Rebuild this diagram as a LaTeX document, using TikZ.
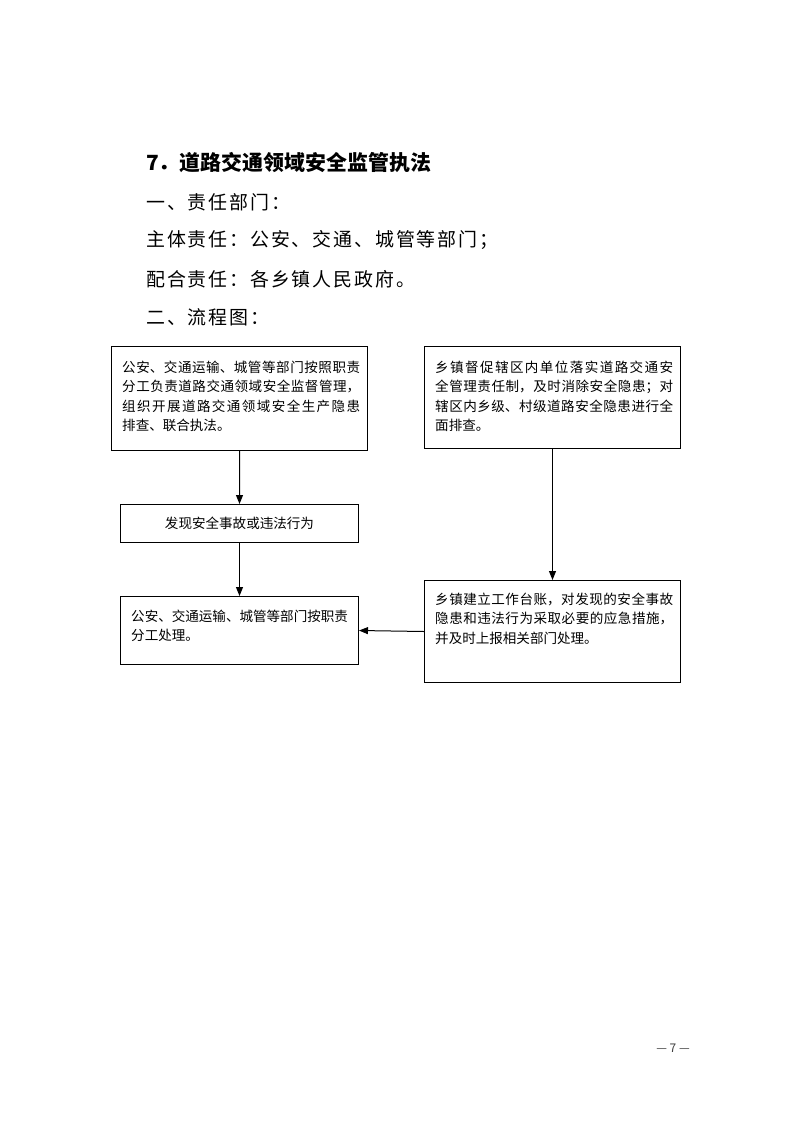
\documentclass[tikz,border=0pt]{standalone}
\usepackage{fontspec}
\setmainfont{Noto Sans CJK SC}
\newfontfamily\cjk{Noto Sans CJK SC}
\newfontfamily\cjkls{Noto Sans CJK SC}[LetterSpace=10]
\usetikzlibrary{arrows.meta}
\XeTeXlinebreaklocale "zh"
\XeTeXlinebreakskip=0pt plus 2pt
\tikzset{
  box/.style={draw, line width=1bp, anchor=north west, inner sep=0pt},
  boxtext/.style={anchor=north west, text width=238bp, align=justify, inner xsep=11bp, inner ysep=14.5bp,
    font=\cjk\fontsize{13.6}{19.5}\selectfont},
  arr/.style={line width=1bp, -{Triangle[length=9bp,width=7bp]}},
  head/.style={anchor=west, inner sep=0pt, font=\cjkls\fontsize{19}{24}\selectfont},
  title/.style={anchor=west, inner sep=0pt, font=\cjk\bfseries\fontsize{21}{24}\selectfont},
}
\begin{document}
\begin{tikzpicture}[x=1bp,y=-1bp]
\useasboundingbox[fill=white] (0,0) rectangle (793,1122);
% headings
\node[title] (t0) at (146,163) {7．道路交通领域安全监管执法};
\node[head] (t1) at (146,202) {一、责任部门：};
\node[head] (t2) at (146,240) {主体责任：公安、交通、城管等部门；};
\node[head] (t3) at (146,279) {配合责任：各乡镇人民政府。};
\node[head] (t4) at (146,317) {二、流程图：};
% boxes
\node[box, minimum width=256bp, minimum height=104bp] (b1) at (111,346) {};
\node[boxtext] (b1t) at (b1.north west) {公安、交通运输、城管等部门按照职责\linebreak 分工负责道路交通领域安全监督管理，\linebreak 组织开展道路交通领域安全生产隐患\linebreak 排查、联合执法。};
\node[box, minimum width=256bp, minimum height=102bp] (b2) at (424,346) {};
\node[boxtext] (b2t) at (b2.north west) {乡镇督促辖区内单位落实道路交通安\linebreak 全管理责任制，及时消除安全隐患；对\linebreak 辖区内乡级、村级道路安全隐患进行全\linebreak 面排查。};
\node[box, minimum width=238bp, minimum height=38bp, font=\cjk\fontsize{13.6}{19.5}\selectfont] (b3) at (120,504) {发现安全事故或违法行为};
\node[box, minimum width=238bp, minimum height=68bp] (b4) at (120,596) {};
\node[boxtext, text width=220bp, inner ysep=13.5bp] (b4t) at (b4.north west) {公安、交通运输、城管等部门按职责\\分工处理。};
\node[box, minimum width=256bp, minimum height=102bp] (b5) at (424,580) {};
\node[boxtext, inner ysep=12.5bp] (b5t) at (b5.north west) {乡镇建立工作台账，对发现的安全事故\linebreak 隐患和违法行为采取必要的应急措施，\linebreak 并及时上报相关部门处理。};
% arrows
\draw[arr] (b1.south) -- (b3.north);
\draw[arr] (b3.south) -- (b4.north);
\draw[arr] (b2.south) -- (b5.north);
\draw[arr] (b5.west) -- (b4.east);
% page number
\node[anchor=center, inner sep=0pt, text=black!75, font=\fontsize{12}{14}\selectfont] (pg) at (673,1048) {\rmfamily --- 7 ---};
\end{tikzpicture}
\end{document}
